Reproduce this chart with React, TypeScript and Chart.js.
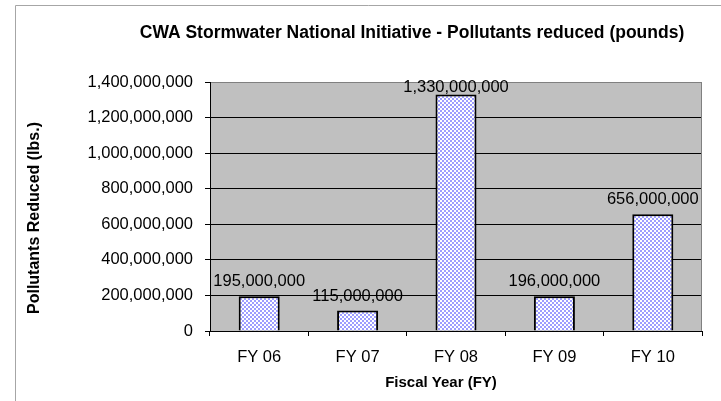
import React, { useEffect, useRef } from "react";
import { Chart, registerables } from "chart.js";

Chart.register(...registerables);

// ---- data ----
const categories = ["FY 06", "FY 07", "FY 08", "FY 09", "FY 10"];
const pollutantsReduced = [195000000, 115000000, 1330000000, 196000000, 656000000];
const yMin = 0;
const yMax = 1400000000;
const yStep = 200000000;
const chartTitle = "CWA Stormwater National Initiative - Pollutants reduced (pounds)";
const yAxisTitle = "Pollutants Reduced (lbs.)";
const xAxisTitle = "Fiscal Year (FY)";

const FONT = '"Liberation Sans", Arial, Helvetica, sans-serif';
const W = 721;
const H = 401;

function fmt(v: number): string {
  return Number(v).toLocaleString("en-US");
}

function makePattern(): CanvasPattern | string {
  const c = document.createElement("canvas");
  c.width = 4;
  c.height = 4;
  const g = c.getContext("2d");
  if (!g) return "#c8c8ff";
  g.fillStyle = "#9d9dff";
  g.fillRect(0, 0, 4, 4);
  g.fillStyle = "#ffffff";
  g.fillRect(0, 0, 2, 2);
  g.fillRect(2, 2, 2, 2);
  return g.createPattern(c, "repeat") || "#c8c8ff";
}

const decorPlugin = {
  id: "decor",
  beforeDraw(chart: any) {
    const { ctx, chartArea: a } = chart;
    ctx.save();
    ctx.fillStyle = "#ffffff";
    ctx.fillRect(0, 0, chart.width, chart.height);
    // outer chart border
    ctx.strokeStyle = "#a6a6a6";
    ctx.lineWidth = 1;
    ctx.beginPath();
    ctx.moveTo(15.5, chart.height);
    ctx.lineTo(15.5, 5.5);
    ctx.lineTo(chart.width, 5.5);
    ctx.stroke();
    // plot area background
    ctx.fillStyle = "#c0c0c0";
    ctx.fillRect(a.left, a.top, a.right - a.left, a.bottom - a.top);
    ctx.restore();
  },
  afterDraw(chart: any) {
    const { ctx, chartArea: a } = chart;
    ctx.save();
    // right border of plot area
    ctx.strokeStyle = "#808080";
    ctx.lineWidth = 1;
    ctx.beginPath();
    ctx.moveTo(a.right - 0.5, a.top);
    ctx.lineTo(a.right - 0.5, a.bottom);
    ctx.stroke();

    // data labels
    const meta = chart.getDatasetMeta(0);
    ctx.fillStyle = "#000";
    ctx.font = `16.5px ${FONT}`;
    ctx.textAlign = "center";
    ctx.textBaseline = "alphabetic";
    meta.data.forEach((bar: any, i: number) => {
      const y = Math.max(bar.y - 10, a.top + 10);
      ctx.fillText(fmt(pollutantsReduced[i]), bar.x, y);
    });

    // chart title
    ctx.font = `bold 17.5px ${FONT}`;
    ctx.textBaseline = "middle";
    ctx.fillText(chartTitle, 412, 33);

    // x axis title
    ctx.font = `bold 15px ${FONT}`;
    ctx.fillText(xAxisTitle, 441, 383);

    // y axis title
    ctx.translate(35, 218);
    ctx.rotate(-Math.PI / 2);
    ctx.font = `bold 16px ${FONT}`;
    ctx.fillText(yAxisTitle, 0, 0);
    ctx.restore();
  },
};

export default function App() {
  const ref = useRef<HTMLCanvasElement>(null);

  useEffect(() => {
    const canvas = ref.current;
    if (!canvas) return;
    const pattern = makePattern();
    const chart = new Chart(canvas, {
      type: "bar",
      data: {
        labels: categories,
        datasets: [
          {
            label: "Pollutants reduced",
            data: pollutantsReduced,
            backgroundColor: pattern as any,
            borderColor: "#000000",
            borderWidth: 2,
            barPercentage: 0.417,
            categoryPercentage: 1,
          },
        ],
      },
      options: {
        responsive: false,
        animation: false,
        devicePixelRatio: 1,
        layout: { padding: { top: 82, right: 19, bottom: 0, left: 0 } },
        plugins: {
          legend: { display: false },
          tooltip: { enabled: false },
          title: { display: false },
        },
        scales: {
          x: {
            ticks: {
              color: "#000",
              font: { family: FONT, size: 16.5 },
              padding: 12,
            },
            grid: {
              offset: true,
              drawOnChartArea: false,
              drawTicks: true,
              tickLength: 5,
              tickColor: "#000",
              color: "#000",
            },
            border: { display: true, color: "#000", width: 1 },
            afterFit: (s: any) => {
              s.height = 70;
            },
          },
          y: {
            min: yMin,
            max: yMax,
            ticks: {
              stepSize: yStep,
              color: "#000",
              font: { family: FONT, size: 16.5 },
              padding: 12,
              callback: (v: any) => fmt(Number(v)),
            },
            grid: {
              color: (c: any) => (c.tick && c.tick.value === yMax ? "#808080" : "#000"),
              tickColor: "#000",
              tickLength: 5,
              drawTicks: true,
            },
            border: { display: true, color: "#000", width: 1 },
            afterFit: (s: any) => {
              s.width = 210;
            },
          },
        },
      },
      plugins: [decorPlugin],
    });
    return () => chart.destroy();
  }, []);

  return (
    <div style={{ position: "absolute", left: 0, top: 0, width: W, height: H }}>
      <canvas ref={ref} width={W} height={H} style={{ display: "block", width: W, height: H }} />
    </div>
  );
}
